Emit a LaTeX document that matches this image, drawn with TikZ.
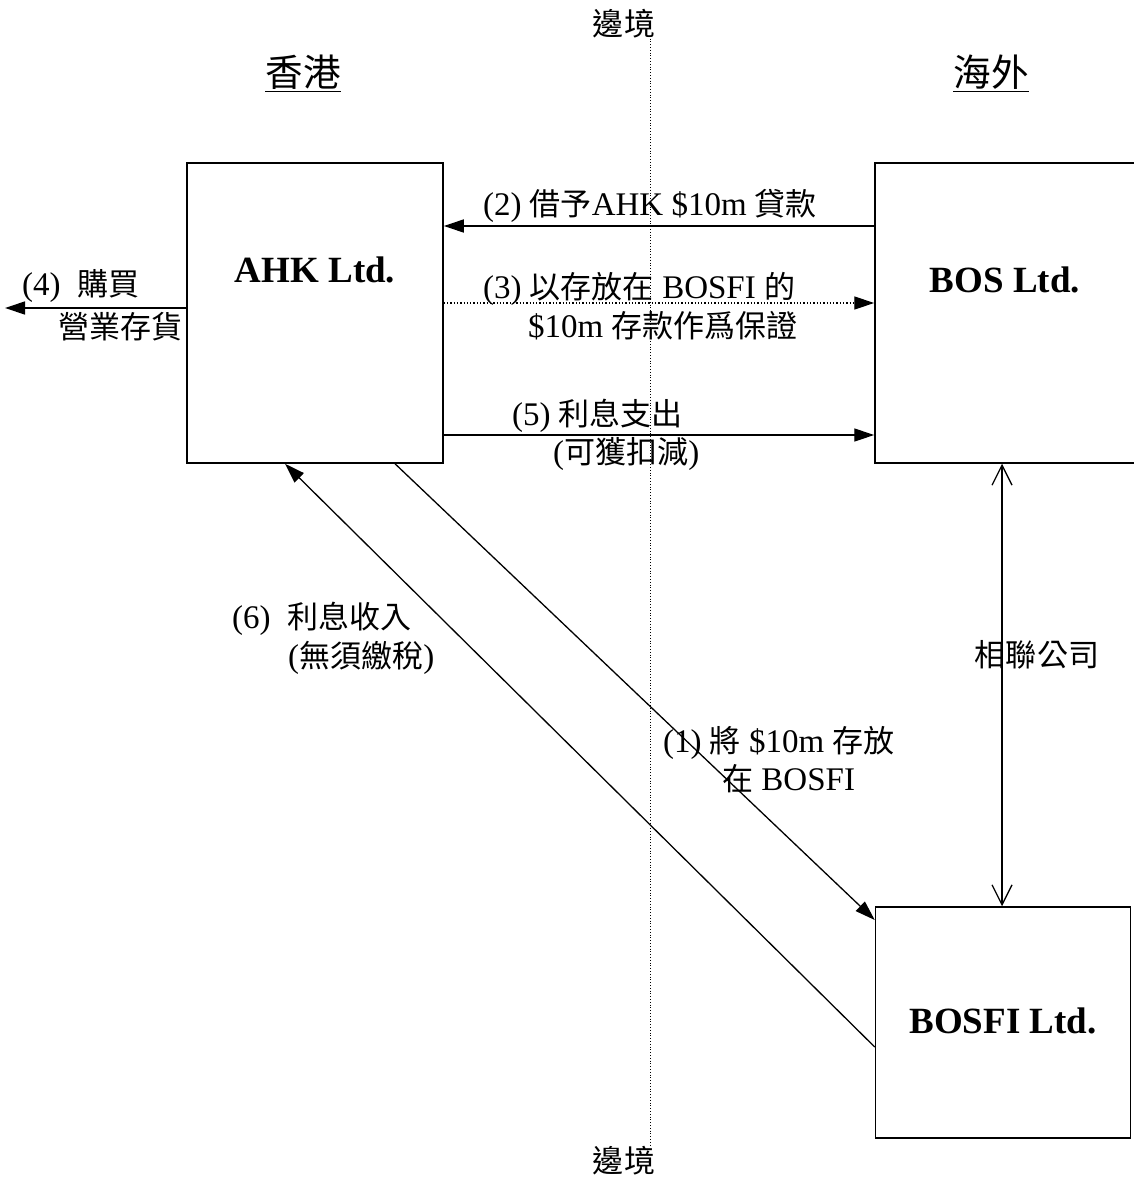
\documentclass[tikz,border=0pt]{standalone}
\usepackage{fontspec}
\setmainfont{Liberation Serif}
\newfontfamily\cjk{Noto Sans CJK TC}[Scale=0.94]
\newcommand{\zh}[1]{{\cjk #1}}
\usepackage{tikz}
\usetikzlibrary{arrows.meta}

\begin{document}
\begin{tikzpicture}[x=1pt, y=-1pt,
        company/.style={draw, line width=1.5pt, inner sep=0pt, anchor=base, font=\fontsize{37}{44}\selectfont\bfseries},
        lbl/.style={inner sep=0pt, font=\fontsize{33}{40}\selectfont},
        side/.style={inner sep=0pt, font=\fontsize{40}{46}\selectfont},
        flow/.style={-{Triangle[length=20pt, width=13pt]}, line width=1.3pt},
        link/.style={{Straight Barb[length=20pt, width=20pt]}-{Straight Barb[length=20pt, width=20pt]}, line width=1.3pt}
    ]
        \useasboundingbox (0,0) rectangle (1133,1177);

        \node[side, anchor=base] (hk) at (303,87) {\underline{\zh{香港}}};
        \node[side, anchor=base] (os) at (991,87) {\underline{\zh{海外}}};

        \node[lbl] (edgetop) at (624,24) {\zh{邊境}};
        \node[lbl] (edgebot) at (624,1161) {\zh{邊境}};
        \draw[dotted, line width=0.8pt] (edgetop.south -| 650,0) -- (edgebot.north -| 650,0);

        \node[company, minimum width=256pt, text height=119pt, text depth=181pt] (ahk) at (315,282) {AHK Ltd.};
        \node[company, minimum width=260pt, text height=129pt, text depth=171pt] (bos) at (1005,292) {BOS Ltd.};
        \node[company, minimum width=255pt, text height=126pt, text depth=105pt] (bosfi) at (1003,1033) {BOSFI Ltd.};

        \draw[flow] (bos.west |- 0,226) -- (ahk.east |- 0,226);
        \draw[flow, dotted] (ahk.east |- 0,303) -- (bos.west |- 0,303);
        \draw[flow] (ahk.east |- 0,435) -- (bos.west |- 0,435);
        \coordinate (buy) at (5,308);
        \draw[flow] (ahk.west |- 0,308) -- (buy);
        \draw[flow] (ahk.south -| 395,0) -- (bosfi.west |- 0,920);
        \draw[flow] (bosfi.west |- 0,1047) -- (ahk.south -| 285,0);
        \draw[link] (bos.south -| 1002,0) -- (bosfi.north -| 1002,0);

        \node[lbl, anchor=base] (lend) at (650,215) {(2) \zh{借予}AHK \$10m \zh{貸款}};
        \node[lbl, anchor=base west] (pledge) at (483,298) {(3) \zh{以存放在} BOSFI \zh{的}};
        \node[lbl, anchor=base west] (pledgeb) at (528,337) {\$10m \zh{存款作爲保證}};
        \node[lbl, anchor=base west] (paya) at (512,425) {(5) \zh{利息支出}};
        \node[lbl, anchor=base west] (payb) at (553,463) {(\zh{可獲扣減})};
        \node[lbl, anchor=base west] (buya) at (22,295) {(4)\ \ \zh{購買}};
        \node[lbl, anchor=base east] (buyb) at (183,338) {\zh{營業存貨}};
        \node[lbl, anchor=base west] (recva) at (232,628) {(6)\ \ \zh{利息收入}};
        \node[lbl, anchor=base west] (recvb) at (288,667) {(\zh{無須繳稅})};
        \node[lbl, anchor=base west] (depa) at (663,752) {(1) \zh{將} \$10m \zh{存放}};
        \node[lbl, anchor=base west] (depb) at (722,790) {\zh{在} BOSFI};
        \node[lbl] (assoc) at (1037,655) {\zh{相聯公司}};
    \end{tikzpicture}
\end{document}
